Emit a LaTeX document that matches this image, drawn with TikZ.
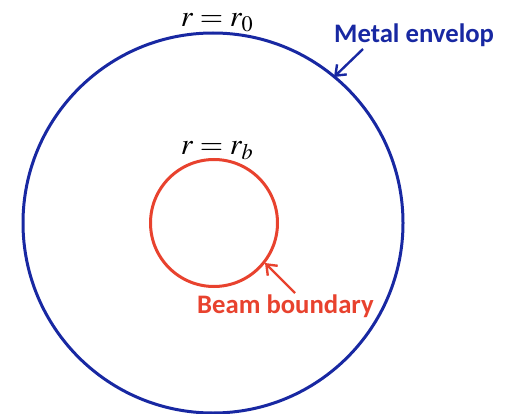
\documentclass[tikz,border=0pt]{standalone}
\usepackage{mathptmx}
\usepackage{fontspec}
\usetikzlibrary{arrows.meta}
\newfontfamily\labelfont{Carlito}
\definecolor{envblue}{RGB}{24,40,162}
\definecolor{beamred}{RGB}{232,66,46}
\begin{document}
\begin{tikzpicture}[x=1pt,y=-1pt,
  ring/.style={line width=3pt},
  lbl/.style={font=\labelfont\bfseries\fontsize{26.7}{31}\selectfont, inner sep=0pt},
  mathlbl/.style={font=\fontsize{30}{35}\selectfont, inner sep=0pt},
  pointer/.style={line width=2.4pt,-{Straight Barb[length=9pt,width=14pt,line width=2.4pt]}}]
\useasboundingbox (0,0) rectangle (508,414);
\draw[ring,envblue] (213,223) circle (190);
\draw[ring,beamred] (214,223) circle (63.5);
\node[mathlbl,anchor=base] (r0) at (217,27) {$r = r_0$};
\node[mathlbl,anchor=base] (rb) at (217,155) {$r = r_b$};
\node[lbl,text=envblue,anchor=base west] (metal) at (334,43) {Metal envelop};
\node[lbl,text=beamred,anchor=base west] (beam) at (197,313) {Beam boundary};
\coordinate (mtail) at (363,49);
\coordinate (mhead) at (334,77);
\coordinate (btail) at (295,293);
\coordinate (bhead) at (265,263);
\draw[pointer,envblue] (mtail) -- (mhead);
\draw[pointer,beamred] (btail) -- (bhead);
\end{tikzpicture}
\end{document}
